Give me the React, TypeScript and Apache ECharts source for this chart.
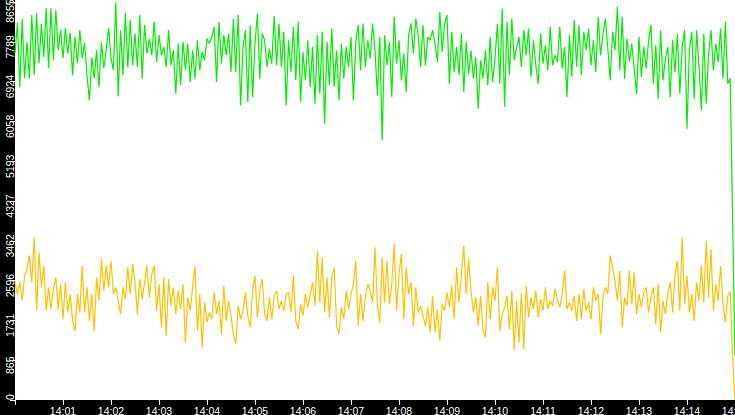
import React, { useEffect, useRef } from 'react';
import * as echarts from 'echarts';

const T0 = new Date(2024, 0, 1, 14, 0, 0).getTime();
const STEP_MS = 3000;
const SPAN_MS = 15 * 60 * 1000;
const Y_MAX = 8700;
const Y_INTERVAL = 865.5;
const GREEN = '#00ee00';
const YELLOW = '#ffc000';

// green series, 14:00:00 - 14:02:30 (every 3 s)
const green0 = [
  7543, 8197, 6802, 8284, 6998, 7783, 6998, 8371, 7063, 8415,
  7325, 8175, 7456, 8524, 7216, 8524, 7390, 8480, 7608, 8044,
  7434, 8088, 7543, 7979, 7063, 7892, 7325, 8044, 7434, 7761,
  7063, 6518, 7456, 6998, 7608, 6802, 7783, 7216, 7608, 8088,
  7434, 7172, 8650, 6605, 8044, 7063, 8415, 7238, 8262, 7281,
];
const green1 = [
  7971, 7244, 8371, 6990, 8153, 7535, 7862, 7498, 8225, 7353,
  7935, 7498, 7680, 7244, 8044, 7280, 7608, 6662, 7753, 6844,
  7789, 7171, 7753, 6917, 7608, 6990, 7826, 7171, 7571, 7389,
  7862, 7753, 7898, 8116, 6917, 8225, 7317, 7935, 7498, 7971,
  7135, 8298, 7135, 8371, 6408, 7680, 8044, 6481, 8153, 6590,
];
const green2 = [
  7753, 8407, 6990, 7971, 7826, 7244, 7644, 7317, 8349, 7280,
  8189, 7244, 8007, 6408, 7826, 7135, 8116, 6953, 8225, 6481,
  7571, 6953, 7826, 6808, 7680, 6444, 7935, 6662, 8007, 6008,
  7789, 6844, 8080, 6808, 7608, 6517, 7753, 6990, 7680, 7244,
  7898, 6517, 7789, 8153, 7171, 8189, 7244, 7826, 7426, 8189,
];
const green3 = [
  7607, 6626, 7898, 5645, 7935, 7280, 7789, 6590, 8335, 7317,
  7826, 6953, 7535, 6699, 7935, 8189, 7535, 8298, 7935, 7244,
  8153, 7280, 7898, 7826, 8044, 7753, 7353, 8444, 7571, 8189,
  8371, 6881, 8007, 7135, 7680, 7062, 7971, 6699, 7789, 7099,
  7607, 6990, 7462, 6335, 7389, 6990, 7607, 6844, 7898, 6917,
];
const green4 = [
  7426, 8189, 6881, 8516, 6372, 8225, 7062, 8298, 7389, 7680,
  7898, 7244, 8044, 7498, 8080, 7026, 7826, 7280, 6881, 7971,
  7317, 7716, 7171, 8116, 7280, 7498, 7353, 8116, 7208, 7680,
  6590, 7935, 7026, 8262, 7244, 8153, 7062, 8007, 7607, 8080,
  7280, 7826, 7135, 8335, 7498, 7971, 8298, 7644, 6953, 8007,
];
const green5 = [
  7607, 8553, 7171, 8335, 6990, 7862, 7353, 7753, 7208, 6662,
  7898, 7026, 7680, 7208, 7826, 8153, 6881, 7717, 6553, 8044,
  6953, 7426, 7680, 6590, 7826, 7135, 7971, 6662, 7680, 8044,
  5899, 7607, 8007, 6553, 8044, 7244, 6299, 7971, 6444, 7535,
  8044, 7171, 7753, 7353, 8080, 6990, 8225, 6881, 6990, 3950, 960,
];

// yellow series, same timestamps
const yellow0 = [
  2558, 2303, 2558, 2158, 2703, 2849, 3139, 2558, 3539, 1940,
  3212, 2449, 2921, 1940, 2449, 1976, 2413, 2667, 1976, 2522,
  1758, 2558, 1904, 2303, 1722, 1504, 2303, 1904, 2921, 1904,
  2449, 1722, 2303, 1504, 2667, 2158, 3067, 2376, 2921, 2449,
  3030, 2303, 2449, 2158, 1867, 2449, 2194, 2885, 2303, 2958,
];
const yellow1 = [
  2558, 1867, 2631, 2194, 2558, 2921, 2231, 2740, 2921, 1940,
  2522, 1576, 2667, 1395, 2631, 2049, 2449, 1867, 2376, 1976,
  2522, 1249, 2231, 1940, 2449, 2907, 1504, 2303, 1140, 2122,
  1686, 1904, 1758, 2340, 1867, 2158, 1431, 2485, 1722, 2158,
  1831, 1431, 1213, 2049, 1758, 1940, 2340, 1831, 1576, 2376,
];
const yellow2 = [
  2703, 1795, 2376, 2631, 1867, 1722, 2231, 1758, 2267, 2376,
  1976, 2158, 1940, 2303, 2340, 1904, 2703, 1722, 1540, 2085,
  1831, 2303, 2013, 2303, 2558, 2049, 3248, 2122, 3103, 1904,
  2667, 1795, 2667, 2885, 1613, 1431, 2013, 1758, 2376, 1976,
  2303, 2522, 3030, 1613, 2303, 1722, 2267, 2522, 2376, 2122,
];
const yellow3 = [
  3321, 2049, 1686, 3103, 2122, 3030, 2085, 2522, 3394, 1940,
  2740, 3176, 1758, 2885, 2303, 2558, 1613, 2449, 1904, 2049,
  1831, 1613, 2013, 1467, 2267, 1467, 1976, 1286, 2085, 1940,
  2340, 2013, 2485, 1758, 2885, 2122, 2740, 3357, 2303, 3067,
  2376, 1904, 2231, 1613, 2267, 1540, 1358, 2558, 1758, 2449,
];
const yellow4 = [
  2158, 2885, 1504, 1867, 2013, 2267, 1540, 2376, 1086, 2158,
  1249, 2340, 1104, 2485, 1795, 2231, 1976, 2376, 1795, 2194,
  1940, 2449, 1976, 2158, 2049, 2413, 2194, 2013, 2303, 2812,
  1976, 2122, 1940, 2267, 1722, 2303, 1758, 2413, 1940, 2122,
  1758, 2449, 2158, 2303, 1431, 2231, 2449, 2303, 3139, 2885,
];
const yellow5 = [
  2594, 2158, 2812, 1576, 2231, 2049, 2812, 2085, 2776, 1867,
  2303, 2013, 2340, 2449, 1904, 2231, 2449, 1649, 2522, 1467,
  2158, 1867, 2303, 2558, 1904, 2740, 3030, 1940, 3539, 2085,
  2703, 1904, 2303, 1722, 2558, 2158, 2921, 2122, 3467, 2231,
  3285, 1940, 2522, 2158, 2921, 2085, 1686, 2267, 2350, 950, 0,
];

const greenValues = [...green0, ...green1, ...green2, ...green3, ...green4, ...green5];
const yellowValues = [...yellow0, ...yellow1, ...yellow2, ...yellow3, ...yellow4, ...yellow5];

const toPairs = (vals: number[]) => vals.map((v, i) => [T0 + i * STEP_MS, v]);

const FONT = 'Liberation Sans';
const pad2 = (n: number) => (n < 10 ? '0' : '') + n;

export default function App() {
  const ref = useRef<HTMLDivElement>(null);
  useEffect(() => {
    if (!ref.current) return;
    const chart = echarts.init(ref.current, null, { renderer: 'svg' });
    const labelBase = { color: '#fff', fontFamily: FONT, fontSize: 10.5 };
    chart.setOption({
      animation: false,
      backgroundColor: '#000',
      grid: {
        left: 15,
        right: 0,
        top: 0,
        bottom: 15,
        show: true,
        backgroundColor: '#fff',
        borderWidth: 0,
        containLabel: false,
        outerBoundsMode: 'none',
      },
      xAxis: {
        type: 'time',
        min: T0,
        max: T0 + SPAN_MS,
        minInterval: 60000,
        maxInterval: 60000,
        axisLine: { show: false },
        axisTick: { show: true, length: 5, lineStyle: { color: '#fff', width: 1 } },
        splitLine: { show: false },
        axisLabel: {
          ...labelBase,
          margin: 5,
          formatter: (v: number) => {
            if (v <= T0) return '';
            const d = new Date(v);
            return pad2(d.getHours()) + ':' + pad2(d.getMinutes());
          },
          showMinLabel: false,
          showMaxLabel: true,
          hideOverlap: false,
        },
      },
      yAxis: {
        type: 'value',
        min: 0,
        max: Y_MAX,
        interval: Y_INTERVAL,
        axisLine: { show: false },
        axisTick: { show: true, length: 5, lineStyle: { color: '#fff', width: 1 } },
        splitLine: { show: false },
        axisLabel: {
          ...labelBase,
          rotate: 90,
          margin: 0,
          showMaxLabel: false,
          formatter: (v: number) => {
            const s = String(Math.floor(v + 1e-6));
            if (v < 1) return `{z|${s}}`;
            if (Math.abs(v - 8655) < 1) return `{t|${s}}`;
            return `{n|${s}}`;
          },
          rich: {
            n: { ...labelBase, padding: [0, 10, 0, 0] },
            z: { ...labelBase, padding: [0, 0, 0, 6] },
            t: { ...labelBase, padding: [0, 18, 0, 0] },
          },
        },
      },
      series: [
        {
          name: 'yellow',
          type: 'line',
          data: toPairs(yellowValues),
          showSymbol: false,
          symbol: 'none',
          silent: true,
          lineStyle: { color: YELLOW, width: 1.2 },
          itemStyle: { color: YELLOW },
        },
        {
          name: 'green',
          type: 'line',
          data: toPairs(greenValues),
          showSymbol: false,
          symbol: 'none',
          silent: true,
          lineStyle: { color: GREEN, width: 1.2 },
          itemStyle: { color: GREEN },
        },
      ],
    });
    return () => chart.dispose();
  }, []);
  return (
    <div
      ref={ref}
      style={{ position: 'fixed', left: 0, top: 0, width: 735, height: 415 }}
    />
  );
}
